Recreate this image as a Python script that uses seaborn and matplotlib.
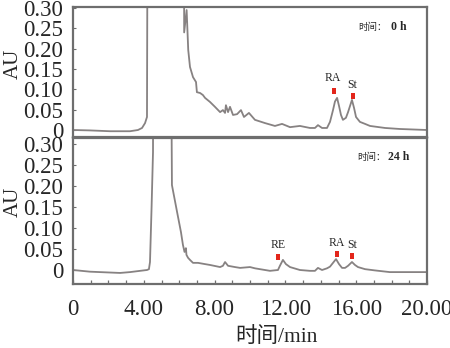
import matplotlib
matplotlib.use("Agg")
import matplotlib.pyplot as plt
import seaborn as sns
import pandas as pd
import numpy as np

sns.set_style("white")
plt.rcParams['font.family'] = ['Liberation Serif', 'Noto Sans CJK SC']

# ---- data (time in min, absorbance in AU) ----
t_0h = [0, 0.96, 2.09, 3.22, 3.67, 3.9, 4.07, 4.18, 4.27, 6.25, 6.28, 6.42, 6.51, 6.61, 6.78,
        6.95, 7.0, 7.18, 7.34, 7.46, 7.74, 8.02, 8.31, 8.47, 8.59, 8.64, 8.76, 8.87, 9.04,
        9.27, 9.49, 9.66, 9.94, 10.28, 10.85, 11.41, 11.81, 12.26, 12.82, 13.39, 13.67,
        13.84, 14.07, 14.35, 14.52, 14.69, 14.8, 14.92, 15.03, 15.14, 15.25, 15.42, 15.54,
        15.76, 15.88, 15.99, 16.21, 16.5, 16.78, 17.63, 18.47, 20.0]
au_0h = [0, -0.001, -0.003, -0.003, 0, 0.005, 0.017, 0.032, 1.5, 1.5, 0.24, 0.295, 0.197, 0.155, 0.13,
         0.118, 0.093, 0.091, 0.086, 0.079, 0.069, 0.057, 0.044, 0.049, 0.042, 0.061, 0.044, 0.057, 0.037,
         0.039, 0.049, 0.032, 0.042, 0.025, 0.017, 0.010, 0.015, 0.007, 0.010, 0.005, 0.005,
         0.012, 0.005, 0.005, 0.02, 0.049, 0.07, 0.079, 0.059, 0.037, 0.025, 0.03, 0.044,
         0.074, 0.054, 0.032, 0.02, 0.015, 0.010, 0.005, 0.0025, 0]

t_24h = [0, 0.96, 2.09, 2.66, 3.22, 3.79, 4.18, 4.29, 4.35, 4.44, 4.52, 4.58, 5.40, 5.59, 5.88,
         6.10, 6.21, 6.3, 6.38, 6.41, 6.5, 6.61, 6.78, 7.06, 7.46, 7.74, 8.31, 8.47, 8.59, 8.76,
         9.15, 9.44, 9.72, 10.0, 10.28, 10.56, 11.13, 11.58, 11.69, 11.86, 12.03, 12.26, 12.82,
         13.39, 13.67, 13.84, 14.07, 14.35, 14.52, 14.69, 14.86, 15.03, 15.2, 15.37, 15.54,
         15.76, 15.93, 16.1, 16.5, 17.06, 17.9, 20.0]
au_24h = [0, -0.004, -0.006, -0.007, -0.005, -0.002, 0, 0.002, 0.019, 0.15, 0.28, 1.5, 1.5, 0.202, 0.138,
          0.09, 0.06, 0.043, 0.052, 0.036, 0.029, 0.024, 0.017, 0.017, 0.014, 0.012, 0.007, 0.01, 0.019, 0.01,
          0.007, 0.005, 0.006, 0.007, 0.004, 0.002, -0.002, 0, 0.01, 0.024, 0.014, 0.007, 0,
          -0.002, -0.002, 0.005, 0, 0.004, 0.008, 0.017, 0.026, 0.014, 0.005, 0.005, 0.01,
          0.019, 0.012, 0.007, 0.002, -0.001, -0.005, -0.005]

# peak annotations: label, label position, marker position
peaks_0h_labels = ["RA", "St"]
peaks_0h_label_x = [14.65, 15.75]
peaks_0h_label_y = [0.128, 0.111]
peaks_0h_mark_x = [14.76, 15.84]
peaks_0h_mark_y = [0.097, 0.084]

peaks_24h_labels = ["RE", "RA", "St"]
peaks_24h_label_x = [11.6, 14.9, 15.76]
peaks_24h_label_y = [0.060, 0.064, 0.060]
peaks_24h_mark_x = [11.6, 14.9, 15.75]
peaks_24h_mark_y = [0.032, 0.037, 0.033]

y_ticks = [0, 0.05, 0.10, 0.15, 0.20, 0.25, 0.30]
y_tick_labels = ["0", "0.05", "0.10", "0.15", "0.20", "0.25", "0.30"]
x_ticks = [0, 4, 8, 12, 16, 20]
x_tick_labels = ["0", "4.00", "8.00", "12.00", "16.00", "20.00"]

LINE = '#878282'
SPINE = '#6e6e6e'
RED = '#e3261b'
RECT = [(-0.35, -0.5), (0.35, -0.5), (0.35, 0.5), (-0.35, 0.5), (-0.35, -0.5)]

W, H = 450, 348
fig = plt.figure(figsize=(W / 100, H / 100), dpi=100)
left = 73 / W
width = (427 - 73) / W
ax1 = fig.add_axes([left, 1 - 137 / H, width, (137 - 7) / H])
ax2 = fig.add_axes([left, 1 - 284 / H, width, (284 - 138) / H])

df1 = pd.DataFrame({"t": t_0h, "au": au_0h})
df2 = pd.DataFrame({"t": t_24h, "au": au_24h})
sns.lineplot(data=df1, x="t", y="au", ax=ax1, color=LINE, lw=1.3, estimator=None, sort=False)
sns.lineplot(data=df2, x="t", y="au", ax=ax2, color=LINE, lw=1.3, estimator=None, sort=False)

ax1.set_ylim(-0.0172, 0.3025)
ax2.set_ylim(-0.0333, 0.314)
for ax in (ax1, ax2):
    ax.set_xlim(0, 20)
    ax.set_yticks(y_ticks)
    ax.set_yticklabels(y_tick_labels)
    ax.tick_params(axis='y', direction='in', length=2.5, width=0.8, color=SPINE,
                   labelsize=16.5, pad=7, left=True)
    for s in ax.spines.values():
        s.set_visible(True)
        s.set_color(SPINE)
        s.set_linewidth(1.6)
    ax.set_ylabel("AU", fontsize=15, labelpad=2)
    ax.yaxis.set_label_coords(-0.142, 0.56)
    ax.set_xlabel("")

ax1.set_xticks([])
ax2.set_xticks(x_ticks)
ax2.set_xticklabels(x_tick_labels)
ax2.set_xticks(np.arange(0, 21, 1), minor=True)
ax2.tick_params(axis='x', which='both', direction='in', length=3, width=0.9, color=SPINE,
                labelsize=16.5, pad=11, bottom=True)

# peak labels and red markers
for lab, lx, ly in zip(peaks_0h_labels, peaks_0h_label_x, peaks_0h_label_y):
    ax1.text(lx, ly, lab, fontsize=8.5, ha='center', va='center', family='Liberation Serif')
ax1.scatter(peaks_0h_mark_x, peaks_0h_mark_y, marker=RECT, s=13, color=RED, linewidths=0, zorder=5)
for lab, lx, ly in zip(peaks_24h_labels, peaks_24h_label_x, peaks_24h_label_y):
    ax2.text(lx, ly, lab, fontsize=8.5, ha='center', va='center', family='Liberation Serif')
ax2.scatter(peaks_24h_mark_x, peaks_24h_mark_y, marker=RECT, s=13, color=RED, linewidths=0, zorder=5)

# time annotations
ax1.text(16.1, 0.253, "时间：", fontsize=6.8, ha='left', va='center', family='Noto Sans CJK SC')
ax1.text(17.97, 0.253, "0 h", fontsize=8.5, ha='left', va='center', weight='bold', family='Liberation Serif')
ax2.text(16.05, 0.269, "时间：", fontsize=6.8, ha='left', va='center', family='Noto Sans CJK SC')
ax2.text(17.8, 0.269, "24 h", fontsize=8.5, ha='left', va='center', weight='bold', family='Liberation Serif')

fig.text(276 / W, 1 - 337 / H, "时间/min", fontsize=15.5, ha='center', va='center',
         family=['Liberation Serif', 'Noto Sans CJK SC'])

fig.savefig("out.png", dpi=100)
